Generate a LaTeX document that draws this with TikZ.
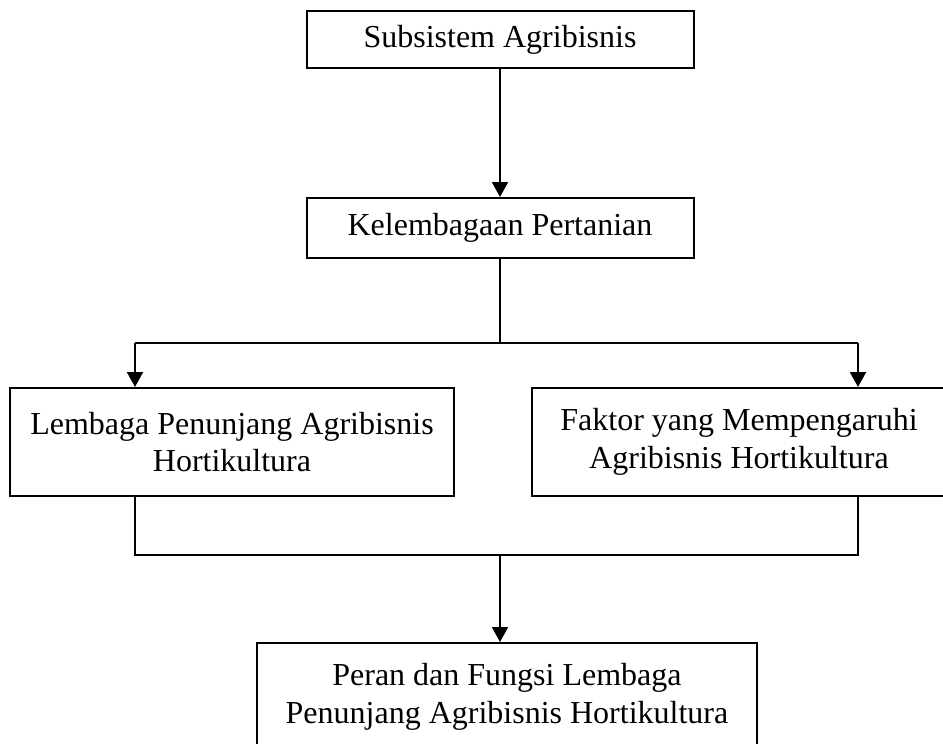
\documentclass[tikz,border=0pt]{standalone}
\usepackage{fontspec}
\setmainfont{Liberation Serif}
\usetikzlibrary{arrows.meta, positioning}

\begin{document}
\begin{tikzpicture}[
  x=1pt, y=-1pt,
  box/.style={rectangle, draw, line width=2pt, inner sep=0pt, text centered, align=center, font=\fontsize{32}{37.5}\selectfont},
  line/.style={line width=2pt},
  arrow/.style={line width=2pt, -{Triangle[length=15pt,width=16pt]}}
]
\useasboundingbox (0,0) rectangle (943,744);

\node[box, minimum width=387pt, minimum height=57pt] (sub) at (500,39.5) {Subsistem Agribisnis};
\node[box, minimum width=387pt, minimum height=60pt] (kel) at (500,228) {Kelembagaan Pertanian};
\node[box, minimum width=444pt, minimum height=108pt] (lem) at (232,442) {Lembaga Penunjang Agribisnis\\Hortikultura};
\node[box, minimum width=414pt, minimum height=108pt] (fak) at (739,442) {Faktor yang Mempengaruhi\\Agribisnis Hortikultura};
\node[box, minimum width=500pt, minimum height=108pt] (per) at (507,697) {Peran dan Fungsi Lembaga\\Penunjang Agribisnis Hortikultura};

% branch points
\coordinate (split) at (500,343);
\coordinate (splitL) at (135,343);
\coordinate (splitR) at (858,343);
\coordinate (join) at (500,555);

\draw[arrow] (sub) -- (kel);
\draw[line] (kel.south) -- (split);
\draw[line] (splitL) -- (splitR);
\draw[arrow] (splitL) -- (splitL |- lem.north);
\draw[arrow] (splitR) -- (splitR |- fak.north);

% merge
\draw[line] (splitL |- lem.south) -- (splitL |- join) -- (splitR |- join) -- (splitR |- fak.south);
\draw[arrow] (join) -- (join |- per.north);
\end{tikzpicture}
\end{document}
